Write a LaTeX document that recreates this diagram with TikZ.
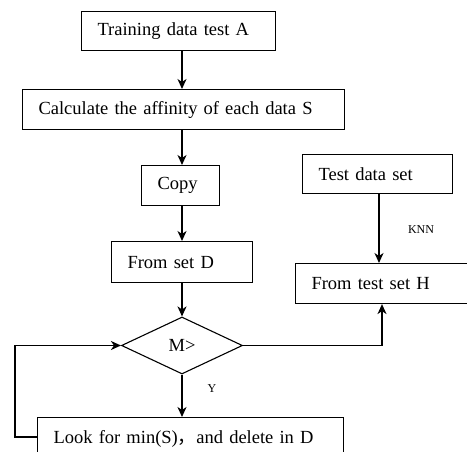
\documentclass[tikz,border=0pt]{standalone}
\usepackage{fontspec}
\setmainfont{Liberation Serif}
\newfontfamily\cjk{Noto Sans CJK SC}
\usetikzlibrary{shapes.geometric,arrows.meta,calc}
\begin{document}
\begin{tikzpicture}[x=1pt,y=-1pt,
  box/.style={draw, line width=1.1pt, anchor=north west, inner xsep=16pt, inner ysep=0pt,
    align=left, font=\fontsize{18.5}{22}\selectfont},
  dia/.style={draw, diamond, line width=1.1pt, inner sep=0pt, font=\fontsize{18.5}{22}\selectfont},
  arr/.style={line width=1.6pt, -{Stealth[length=10pt,width=9pt,inset=3pt]}},
  lbl/.style={font=\fontsize{12}{14}\selectfont, inner sep=0pt},
  ln/.style={line width=1.6pt}]
\useasboundingbox (0,0) rectangle (467,452);
\coordinate (col) at (182,0);
\coordinate (tx) at (379,0);
\coordinate (hx) at (382,0);
\node[box, text width=162pt, minimum height=39pt] (A) at (81,11) {Training data test A};
\node[box, text width=290pt, minimum height=40pt] (S) at (22,89) {Calculate the affinity of each data S};
\node[box, text width=46pt, minimum height=40pt] (C) at (141,165) {Copy};
\node[box, text width=109pt, minimum height=41pt] (D) at (111,241) {From set D};
\node[dia, minimum width=121pt, minimum height=57pt] (M) at (182,345.5) {M>};
\node[box, text width=118pt, minimum height=39pt] (T) at (302,154) {Test data set};
\node[box, text width=160pt, minimum height=40pt] (H) at (295,263) {From test set H};
\node[box, text width=274pt, minimum height=42pt] (L) at (37,417) {Look for min(S){\cjk ，}and delete in D};
\node[lbl] (knn) at (421,230) {KNN};
\node[lbl] (y) at (212,389) {Y};
\coordinate (lp) at (15,0);
\draw[arr] (A.south -| col) -- (S.north -| col);
\draw[arr] (S.south -| col) -- (C.north -| col);
\draw[arr] (C.south -| col) -- (D.north -| col);
\draw[arr] (D.south -| col) -- (M.north);
\draw[arr] (M.south) -- (L.north -| col);
\draw[arr] (T.south -| tx) -- (H.north -| tx);
\draw[arr] (M.east) -- (M.east -| hx) -- (H.south -| hx);
\coordinate (lw) at ($(L.north west)+(0,20)$);
\draw[arr] (lw) -| (lp |- M.west) -- (M.west);
\end{tikzpicture}
\end{document}
